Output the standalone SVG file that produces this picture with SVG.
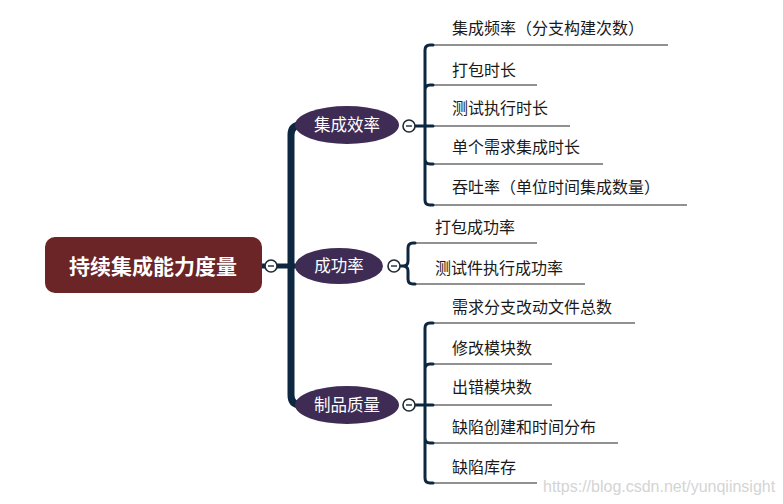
<svg xmlns="http://www.w3.org/2000/svg" width="783" height="504" viewBox="0 0 783 504">
<style>
.cjk{font-family:"Noto Sans CJK SC","Noto Sans",sans-serif}
.leaf{font-size:16px;fill:#1a1a1a}
.br{font-size:16.5px;fill:#fff;text-anchor:middle}
.ul{stroke:#6e6e6e;stroke-width:1.6;fill:none}
.nv{stroke:#0e2740;stroke-width:3;fill:none;stroke-linecap:round}
.tog{fill:#fff;stroke:#1d2a36;stroke-width:1.6}
.minus{stroke:#1d2a36;stroke-width:1.4}
.ell{fill:#3f2c55}
</style>
<rect width="783" height="504" fill="#fff"/>
<g id="connectors">
  <path d="M301 125 Q291 125 291 135 V395 Q291 405 301 405" stroke="#0e2740" stroke-width="7" fill="none"/>
  <path d="M262 266 H300" stroke="#0e2740" stroke-width="5" fill="none"/>
  <path class="ul" d="M429 45 H668 M429 85 H537 M429 126 H570 M429 164 H603 M429 205 H687"/>
  <path class="nv" d="M433 45 H430 Q425 45 425 50 V200 Q425 205 430 205 H433 M425 90 Q425 85 430 85 H433 M425 159 Q425 164 430 164 H433 M415 126 H433"/>
  <path class="ul" d="M412 243 H537 M412 284 H585"/>
  <path class="nv" d="M415 243 H413 Q408 243 408 248 V261 Q408 266 403 266 H400 M403 266 Q408 266 408 271 V279 Q408 284 413 284 H415"/>
  <path class="ul" d="M429 323 H635 M429 364 H552 M429 405 H552 M429 443 H618 M429 483 H537"/>
  <path class="nv" d="M433 323 H430 Q425 323 425 328 V478 Q425 483 430 483 H433 M425 369 Q425 364 430 364 H433 M425 438 Q425 443 430 443 H433 M415 405 H433"/>
</g>
<g id="root">
  <rect x="45" y="237" width="217" height="56" rx="10" fill="#6b2527"/>
  <text class="cjk" x="153" y="273.5" font-size="21" font-weight="bold" fill="#fff" text-anchor="middle">持续集成能力度量</text>
  <circle class="tog" cx="271" cy="266" r="6"/>
  <path class="minus" d="M268 266 H274"/>
</g>
<g id="b1">
  <ellipse class="ell" cx="347" cy="125" rx="52" ry="19"/>
  <text class="cjk br" x="347" y="131">集成效率</text>
  <circle class="tog" cx="409" cy="126" r="6"/>
  <path class="minus" d="M406 126 H412"/>
</g>
<g id="b2">
  <ellipse class="ell" cx="339" cy="266" rx="44" ry="18"/>
  <text class="cjk br" x="339" y="272">成功率</text>
  <circle class="tog" cx="394" cy="266" r="6"/>
  <path class="minus" d="M391 266 H397"/>
</g>
<g id="b3">
  <ellipse class="ell" cx="347" cy="405" rx="52" ry="19"/>
  <text class="cjk br" x="347" y="411">制品质量</text>
  <circle class="tog" cx="409" cy="405" r="6"/>
  <path class="minus" d="M406 405 H412"/>
</g>
<g id="leaves1" class="cjk leaf">
  <text x="452" y="34">集成频率（分支构建次数）</text>
  <text x="452" y="76">打包时长</text>
  <text x="452" y="114">测试执行时长</text>
  <text x="452" y="153">单个需求集成时长</text>
  <text x="452" y="193">吞吐率（单位时间集成数量）</text>
</g>
<g id="leaves2" class="cjk leaf">
  <text x="435" y="233">打包成功率</text>
  <text x="435" y="274">测试件执行成功率</text>
</g>
<g id="leaves3" class="cjk leaf">
  <text x="452" y="313">需求分支改动文件总数</text>
  <text x="452" y="354">修改模块数</text>
  <text x="452" y="393">出错模块数</text>
  <text x="452" y="433">缺陷创建和时间分布</text>
  <text x="452" y="473">缺陷库存</text>
</g>
<text x="543" y="492" font-family="Liberation Sans, Arial, sans-serif" font-size="16" fill="#d4d4d4">https://blog.csdn.net/yunqiinsight</text>
</svg>
